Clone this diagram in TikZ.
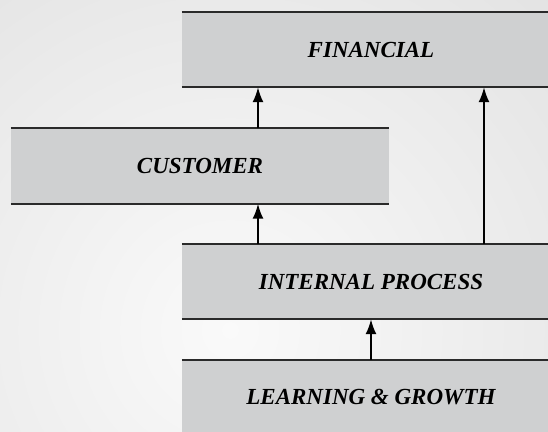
\documentclass[tikz,border=0pt]{standalone}
\usepackage{fontspec}
\setmainfont{Liberation Serif}
\usetikzlibrary{arrows.meta}
\definecolor{boxgray}{HTML}{CFD0D1}
\definecolor{linegray}{HTML}{2A2A2A}
\begin{document}
\begin{tikzpicture}[x=1pt,y=-1pt,
  box/.style={fill=boxgray, minimum height=75pt, inner sep=0pt,
    font=\fontsize{23}{27}\selectfont\bfseries\itshape},
  edge/.style={draw=linegray, line width=2pt},
  arr/.style={draw=black, line width=2pt, -{Latex[length=15pt,width=11pt]}}]
\useasboundingbox (0,0) rectangle (548,431);
\clip (0,0) rectangle (548,431);
\shade[inner color=white!98!black, outer color=black!12] (230,330) circle (520);
% boxes
\node[box, minimum width=378pt] (fin) at (371,49.5) {FINANCIAL};
\node[box, minimum width=378pt] (cus) at (200,166) {CUSTOMER};
\node[box, minimum width=378pt] (int) at (371,281.5) {INTERNAL PROCESS};
\node[box, minimum width=378pt] (lrn) at (371,397.5) {LEARNING \& GROWTH};
\foreach \n in {fin,cus,int,lrn}{
  \draw[edge] (\n.north west) -- (\n.north east);
  \draw[edge] (\n.south west) -- (\n.south east);
}
% connector columns
\coordinate (c1) at (258,0);
\coordinate (c2) at (484,0);
\coordinate (c3) at (371,0);
\draw[arr] (int.north -| c1) -- (cus.south -| c1);
\draw[arr] (cus.north -| c1) -- (fin.south -| c1);
\draw[arr] (int.north -| c2) -- (fin.south -| c2);
\draw[arr] (lrn.north -| c3) -- (int.south -| c3);
\end{tikzpicture}
\end{document}
